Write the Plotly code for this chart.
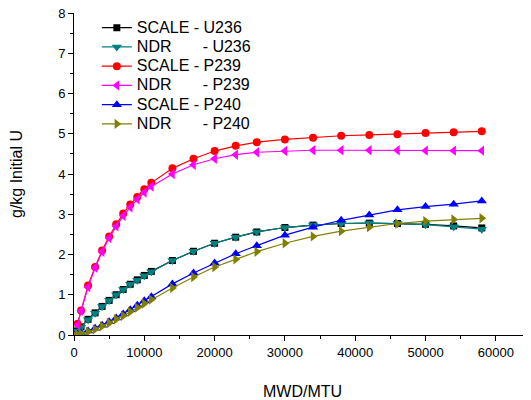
import plotly.graph_objects as go

# Burnup (MWD/MTU)
burnup = [0, 500, 1000, 2000, 3000, 4000, 5000, 6000, 7000, 8000, 9000, 10000, 11000,
          14000, 17000, 20000, 23000, 26000, 30000, 34000, 38000, 42000, 46000,
          50000, 54000, 58000]

scale_u236 = [0.0, 0.10, 0.20, 0.39, 0.55, 0.71, 0.86, 1.00, 1.13, 1.26, 1.37, 1.48, 1.58,
              1.85, 2.08, 2.28, 2.43, 2.56, 2.67, 2.73, 2.77, 2.78, 2.77, 2.75, 2.71, 2.66]
ndr_u236 = [0.0, 0.10, 0.19, 0.38, 0.54, 0.71, 0.86, 1.00, 1.13, 1.26, 1.36, 1.47, 1.57,
            1.85, 2.08, 2.28, 2.43, 2.56, 2.67, 2.73, 2.77, 2.78, 2.77, 2.74, 2.69, 2.63]
scale_p239 = [None, 0.28, 0.61, 1.23, 1.69, 2.10, 2.45, 2.75, 3.02, 3.24, 3.43, 3.62, 3.78,
              4.14, 4.38, 4.57, 4.70, 4.79, 4.86, 4.90, 4.95, 4.97, 4.99, 5.02, 5.04, 5.06]
ndr_p239 = [None, 0.25, 0.60, 1.19, 1.67, 2.07, 2.41, 2.70, 2.96, 3.17, 3.37, 3.54, 3.69,
            4.00, 4.23, 4.38, 4.48, 4.54, 4.57, 4.59, 4.59, 4.59, 4.59, 4.58, 4.58, 4.58]
scale_p240 = [0.0, 0.02, 0.05, 0.10, 0.17, 0.24, 0.33, 0.42, 0.52, 0.63, 0.74, 0.85, 0.95,
              1.27, 1.54, 1.79, 2.02, 2.22, 2.48, 2.68, 2.85, 2.98, 3.11, 3.19, 3.25, 3.33]
ndr_p240 = [0.0, 0.01, 0.03, 0.08, 0.14, 0.22, 0.30, 0.39, 0.48, 0.58, 0.68, 0.78, 0.88,
            1.17, 1.44, 1.69, 1.88, 2.07, 2.28, 2.45, 2.58, 2.68, 2.77, 2.83, 2.87, 2.90]

NB = "\u00a0"
series = [
    ("SCALE - U236", scale_u236, "#000000", "square", 7),
    ("NDR" + NB * 7 + "- U236", ndr_u236, "#008080", "triangle-down", 9),
    ("SCALE - P239", scale_p239, "#ff0000", "circle", 8),
    ("NDR" + NB * 7 + "- P239", ndr_p239, "#ff00ff", "triangle-left", 9),
    ("SCALE - P240", scale_p240, "#0000ff", "triangle-up", 9),
    ("NDR" + NB * 7 + "- P240", ndr_p240, "#808000", "triangle-right", 9),
]

fig = go.Figure()
for name, vals, color, sym, size in series:
    fig.add_trace(go.Scatter(
        x=burnup, y=vals, name='<span style="font-size:16px">' + name + "</span>",
        mode="lines+markers",
        line=dict(color=color, width=1.2),
        marker=dict(symbol=sym, size=size, color=color, line=dict(width=0)),
        connectgaps=False,
    ))

font = "Arial, 'Liberation Sans', sans-serif"
# page has an 8px body margin: the figure is sized so the plot lands where the reference has it
fig.update_layout(
    width=523, height=392,
    margin=dict(l=66, r=0, t=5, b=65),
    paper_bgcolor="white", plot_bgcolor="white",
    font=dict(family=font, size=13, color="black"),
    showlegend=True,
    legend=dict(x=0.05, y=1.0, xanchor="left", yanchor="top",
                bgcolor="rgba(0,0,0,0)", borderwidth=0,
                font=dict(size=12.5, family=font, color="black")),
    xaxis=dict(
        range=[0, 65000], showgrid=False, zeroline=False, automargin=False,
        showline=True, linecolor="black", linewidth=1,
        ticks="outside", ticklen=5, tickcolor="black", dtick=10000, tick0=0,
        minor=dict(ticks="outside", ticklen=3, dtick=5000, tickcolor="black"),
        tickfont=dict(size=13), tickformat="d", ticklabeloverflow="allow",
        title=dict(text="MWD/MTU", font=dict(size=16), standoff=42),
    ),
    yaxis=dict(
        range=[0, 8], showgrid=False, zeroline=False, automargin=False,
        showline=True, linecolor="black", linewidth=1,
        ticks="outside", ticklen=5, tickcolor="black", dtick=1, tick0=0,
        minor=dict(ticks="outside", ticklen=3, dtick=0.5, tickcolor="black"),
        tickfont=dict(size=13), ticklabeloverflow="allow",
        title=dict(text="g/kg Initial U", font=dict(size=16), standoff=33),
    ),
)

fig.write_html("out.html")
